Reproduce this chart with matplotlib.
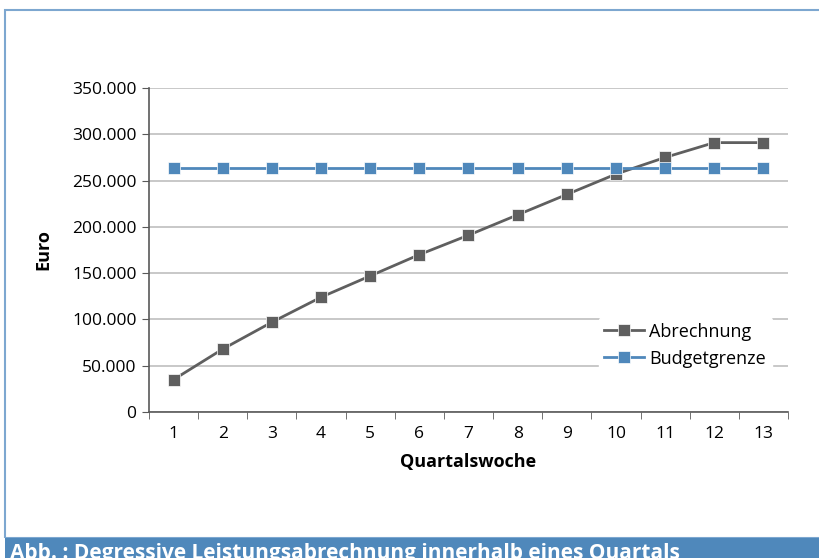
import numpy as np
import matplotlib.pyplot as plt
from matplotlib.patches import Rectangle

plt.rcParams['font.family'] = ['Liberation Sans Narrow', 'Open Sans', 'DejaVu Sans']

weeks = list(range(1, 14))
abrechnung = [35000, 68000, 97000, 124000, 147000, 170000, 191000,
              213000, 235000, 257000, 275000, 291000, 291000]
budgetgrenze = [264000] * 13
yticks = [0, 50000, 100000, 150000, 200000, 250000, 300000, 350000]
ytick_labels = ['0', '50.000', '100.000', '150.000', '200.000',
                '250.000', '300.000', '350.000']

grey = '#5f5f5f'
blue = '#4f88bb'

fig = plt.figure(figsize=(8.2, 5.58), dpi=100)
ax = fig.add_axes([149/820, 146/558, 639/820, 324/558])

ax.plot(weeks, abrechnung, color=grey, lw=2, marker='s', ms=9,
        markeredgecolor='white', markeredgewidth=0.5, label='Abrechnung')
ax.plot(weeks, budgetgrenze, color=blue, lw=2, marker='s', ms=9,
        markeredgecolor='white', markeredgewidth=0.5, label='Budgetgrenze')

ax.set_xlim(0.5, 13.5)
ax.set_ylim(0, 350000)
ax.set_yticks(yticks)
ax.set_yticklabels(ytick_labels, fontsize=12.5)
ax.set_xticks(weeks)
ax.set_xticklabels([str(w) for w in weeks], fontsize=12.5)
ax.set_xticks(np.arange(0.5, 14, 1), minor=True)
ax.tick_params(axis='x', which='major', length=0, pad=10)
ax.tick_params(axis='x', which='minor', length=5, color='#595959')
ax.tick_params(axis='y', length=5, color='#595959', pad=4)
ax.yaxis.grid(True, color='#bfbfbf', lw=1.2)
ax.set_axisbelow(True)
for s in ['top', 'right']:
    ax.spines[s].set_visible(False)
for s in ['left', 'bottom']:
    ax.spines[s].set_color('#595959')
    ax.spines[s].set_linewidth(1.2)

ax.set_xlabel('Quartalswoche', fontsize=13, fontweight='bold', labelpad=8)
ax.set_ylabel('Euro', fontsize=13, fontweight='bold', labelpad=14)

leg = ax.legend(loc='upper left', bbox_to_anchor=(0.69, 0.32), frameon=True,
                fontsize=13, handlelength=2.2, borderpad=0.3,
                labelspacing=0.5, handletextpad=0.3)
leg.get_frame().set_edgecolor('white')
leg.get_frame().set_facecolor('white')
leg.get_frame().set_alpha(1)

# outer frame and caption banner
fig.patches.append(Rectangle((5/820, 20/558), 1.0, 528/558, transform=fig.transFigure,
                             fill=False, edgecolor='#7da7d0', lw=1.5))
fig.patches.append(Rectangle((5/820, 0), 1.0, 20/558, transform=fig.transFigure,
                             facecolor=blue, edgecolor='none'))
fig.text(10/820, 15/558, 'Abb. : Degressive Leistungsabrechnung innerhalb eines Quartals',
         color='white', fontsize=15, fontweight='bold', va='top', ha='left')

fig.savefig('out.png', dpi=100)
